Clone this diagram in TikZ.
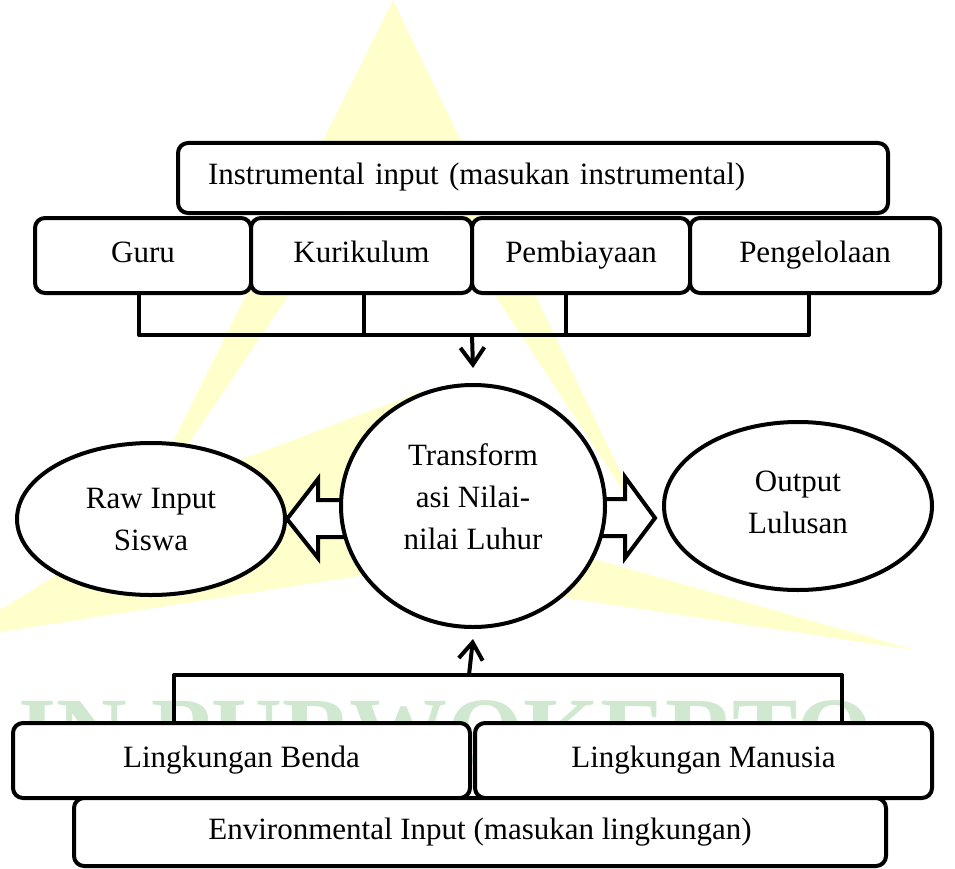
\documentclass[tikz,border=0pt]{standalone}
\usepackage{fontspec}
\setmainfont{Liberation Serif}
\usetikzlibrary{arrows.meta,calc,backgrounds,shapes.geometric}
\definecolor{wmyellow}{RGB}{255,255,204}
\definecolor{wmgreen}{RGB}{208,232,208}
\begin{document}
\begin{tikzpicture}[x=1pt, y=-1pt, font=\fontsize{31}{42}\selectfont, line join=round, line cap=round,
 >={Straight Barb[length=17pt,width=24pt]},
 box/.style={draw, fill=white, line width=4pt, rounded corners=10pt, inner sep=0pt, text height=21pt, text depth=7pt},
 oval/.style={draw, fill=white, line width=4pt, ellipse, inner sep=0pt, align=center},
 link/.style={line width=4pt},
 blockarrow/.style={draw, fill=white, line width=4pt, line join=miter}]
 \useasboundingbox (0,0) rectangle (955,869);
 % instrumental input
 \node[box, minimum width=710pt, minimum height=70pt, text width=650pt, inner xsep=30pt, align=left] (instr) at (533,178) {Instrumental input (masukan instrumental)};
 \node[box, minimum width=216pt, minimum height=75pt] (guru) at (143,255.5) {Guru};
 \node[box, minimum width=221pt, minimum height=75pt] (kuri) at (361.5,255.5) {Kurikulum};
 \node[box, minimum width=218pt, minimum height=75pt] (biaya) at (581,255.5) {Pembiayaan};
 \node[box, minimum width=250pt, minimum height=75pt] (kelola) at (815,255.5) {Pengelolaan};
 % proses
 \node[oval, minimum width=264pt, minimum height=242pt] (trans) at (473,506) {Transform\\asi Nilai-\\nilai Luhur\\[-24pt]~};
 \node[oval, minimum width=268pt, minimum height=152pt] (raw) at (151,519) {Raw Input\\Siswa};
 \node[oval, minimum width=268pt, minimum height=168pt] (output) at (798,506) {Output\\Lulusan\\[-34pt]~};
 % environmental input
 \node[box, minimum width=457pt, minimum height=75pt] (benda) at (241.5,760.5) {Lingkungan Benda};
 \node[box, minimum width=457pt, minimum height=75pt] (manusia) at (703.5,760.5) {Lingkungan Manusia};
 \node[box, minimum width=812pt, minimum height=68pt] (env) at (480,832) {Environmental Input (masukan lingkungan)};
 % connectors
 \draw[link] ([xshift=-4pt]guru.south) -- ++(0,40) -| ([xshift=-6pt]kelola.south);
 \draw[link] ([xshift=2.5pt]kuri.south) -- ++(0,40);
 \draw[link] ([xshift=-15pt]biaya.south) -- ++(0,40);
 \draw[link,->] ($(kuri.south -| trans.north)+(-1,40)$) -- ([yshift=15pt]trans.north);
 \draw[link] ([xshift=-67.5pt]benda.north) -- ++(0,-46) -| ([xshift=138.5pt]manusia.north);
 \draw[link,->] ($(benda.north -| trans.south)+(-4,-46)$) -- ([yshift=-10pt]trans.south);
 \begin{scope}[on background layer]
 \fill[wmyellow] (393,0) -- (125,538) -- (393,140) -- (647,527) -- cycle;
 \fill[wmyellow] (0,610) -- (240,460) -- (420,392) -- (432,392) -- (432,565) -- (333,580) -- (0,632) -- cycle;
 \fill[wmyellow] (520,538) -- (915,650) -- (520,591) -- cycle;
 \node[anchor=base west, inner sep=0pt, text=wmgreen, font=\fontsize{98}{98}\selectfont\bfseries] (mark) at (18,765) {IN PURWOKERTO};
 \draw[blockarrow] (raw.east) -- ++(31,-40) -- ++(0,21) -- ++(45,0) -- ++(0,37) -- ++(-45,0) -- ++(0,21) -- cycle;
 \draw[blockarrow] ([shift={(-7,12)}]output.west) -- ++(-30,-41) -- ++(0,22) -- ++(-50,0) -- ++(0,37) -- ++(50,0) -- ++(0,22) -- cycle;
 \end{scope}
\end{tikzpicture}
\end{document}
